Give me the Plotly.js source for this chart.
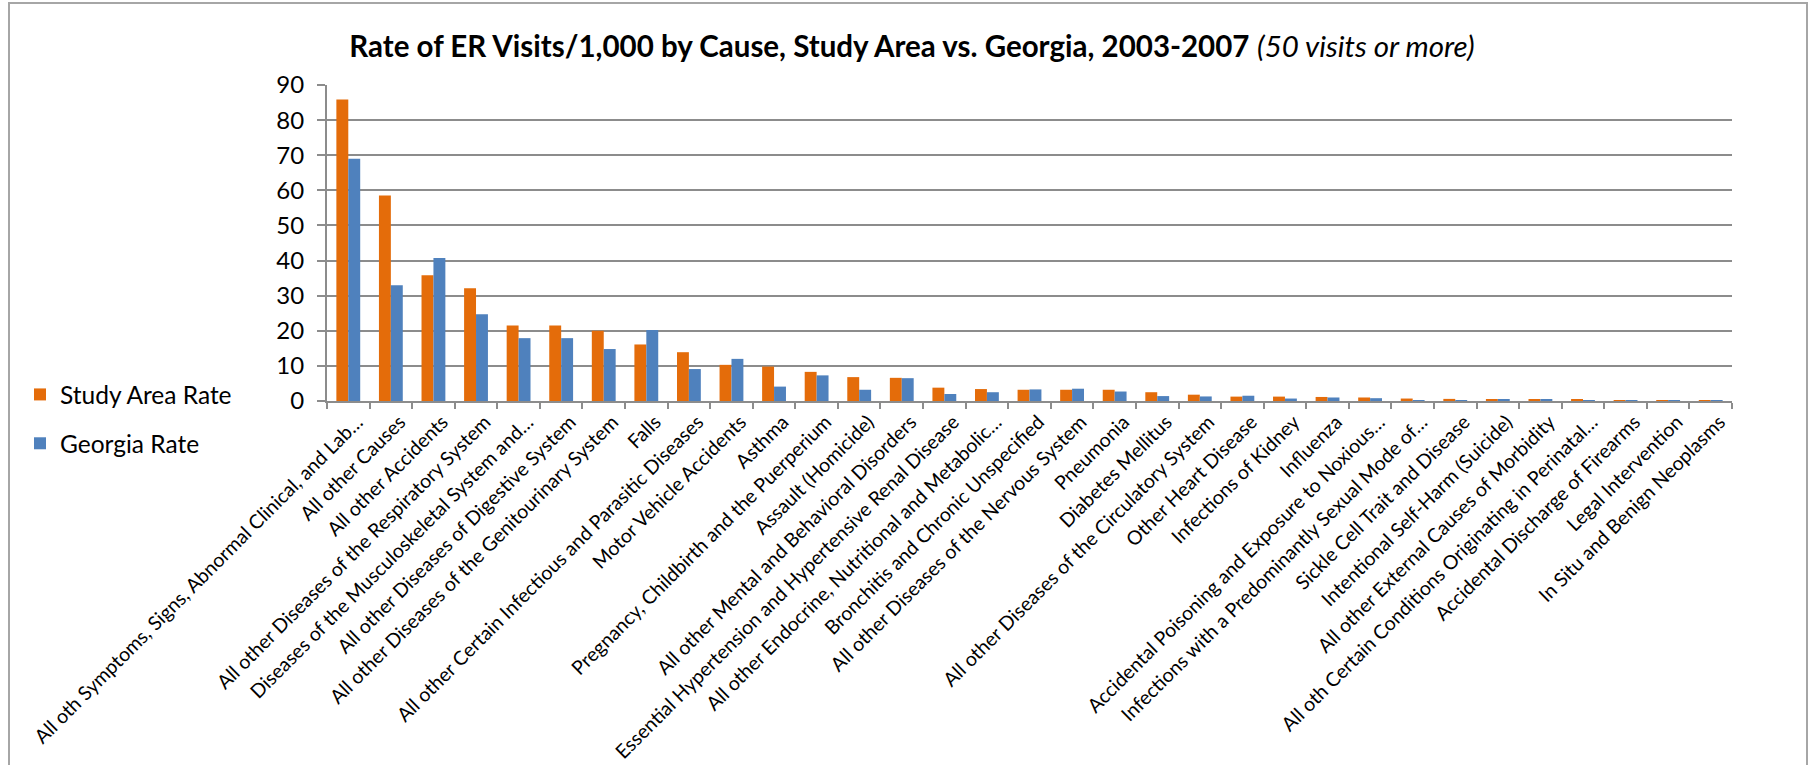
<!DOCTYPE html>
<html>
<head>
<meta charset="utf-8">
<script src="https://cdn.plot.ly/plotly-3.0.1.min.js"></script>
<style>html,body{margin:0;padding:0;background:#fff;}#chart{width:1820px;height:765px;}</style>
</head>
<body>
<div id="chart"></div>
<script>
const categories = [
  "All oth Symptoms, Signs, Abnormal Clinical, and Lab…",
  "All other Causes",
  "All other Accidents",
  "All other Diseases of the Respiratory System",
  "Diseases of the Musculoskeletal System and…",
  "All other Diseases of Digestive System",
  "All other Diseases of the Genitourinary System",
  "Falls",
  "All other Certain Infectious and Parasitic Diseases",
  "Motor Vehicle Accidents",
  "Asthma",
  "Pregnancy, Childbirth and the Puerperium",
  "Assault (Homicide)",
  "All other Mental and Behavioral Disorders",
  "Essential Hypertension and Hypertensive Renal Disease",
  "All other Endocrine, Nutritional and Metabolic…",
  "Bronchitis and Chronic Unspecified",
  "All other Diseases of the Nervous System",
  "Pneumonia",
  "Diabetes Mellitus",
  "All other Diseases of the Circulatory System",
  "Other Heart Disease",
  "Infections of Kidney",
  "Influenza",
  "Accidental Poisoning and Exposure to Noxious…",
  "Infections with a Predominantly Sexual Mode of…",
  "Sickle Cell Trait and Disease",
  "Intentional Self-Harm (Suicide)",
  "All other External Causes of Morbidity",
  "All oth Certain Conditions Originating in Perinatal…",
  "Accidental Discharge of Firearms",
  "Legal Intervention",
  "In Situ and Benign Neoplasms"
];
const studyAreaRate = [85.9, 58.5, 35.8, 32.1, 21.5, 21.5, 20.0, 16.1, 13.9, 10.3, 9.8, 8.3, 6.8, 6.6, 3.8, 3.4, 3.2, 3.2, 3.2, 2.5, 1.8, 1.25, 1.25, 1.15, 1.0, 0.7, 0.6, 0.4, 0.3, 0.3, 0.25, 0.2, 0.2];
const georgiaRate   = [69.0, 33.0, 40.7, 24.7, 17.9, 17.9, 14.8, 20.2, 9.1, 12.0, 4.1, 7.3, 3.2, 6.5, 2.0, 2.5, 3.3, 3.5, 2.7, 1.4, 1.3, 1.5, 0.7, 1.0, 0.8, 0.1, 0.05, 0.4, 0.3, 0.05, 0.05, 0.03, 0.03];
const seriesNames = ["Study Area Rate", "Georgia Rate"];
const yTicks = [0, 10, 20, 30, 40, 50, 60, 70, 80, 90];

const FONT = "Lato, 'Open Sans', sans-serif";
const W = 1820, H = 765;
const plotL = 327, plotR = 1732, plotT = 85, plotB = 401;
const pw = plotR - plotL, ph = plotB - plotT;
const px2x = x => (x - plotL) / pw;
const px2y = y => (plotB - y) / ph;

const traces = [
  {type: 'bar', name: seriesNames[0], x: categories, y: studyAreaRate,
   marker: {color: '#E46C0A', line: {width: 0}}, legendgroup: 'a'},
  {type: 'bar', name: seriesNames[1], x: categories, y: georgiaRate,
   marker: {color: '#4F81BD', line: {width: 0}}, legendgroup: 'b'}
];

const layout = {
  width: W, height: H,
  margin: {l: plotL, r: W - plotR, t: plotT, b: H - plotB, pad: 0},
  paper_bgcolor: '#fff', plot_bgcolor: '#fff',
  font: {family: FONT, color: '#000'},
  barmode: 'group', bargap: 0.44, bargroupgap: 0,
  title: {
    text: "<b>Rate of ER Visits/1,000 by Cause, Study Area vs. Georgia, 2003-2007</b> <i>(50 visits or more)</i>",
    font: {family: FONT, size: 29.5, color: '#000'},
    xref: 'container', x: 912 / W, xanchor: 'center',
    yref: 'container', y: 1 - 47 / H, yanchor: 'middle'
  },
  xaxis: {
    type: 'category', tickangle: -45, tickson: 'boundaries',
    ticks: 'outside', ticklen: 6, tickwidth: 2, tickcolor: '#8c8c8c',
    showline: true, linecolor: '#8c8c8c', linewidth: 2,
    showgrid: false, tickfont: {family: FONT, size: 19.5, color: '#000'},
    ticklabelshift: 9,
    automargin: false
  },
  yaxis: {
    range: [0, 90], tickvals: yTicks, ticktext: yTicks.map(String),
    ticks: 'outside', ticklen: 8, tickwidth: 2, tickcolor: '#8c8c8c',
    showline: true, linecolor: '#8c8c8c', linewidth: 2,
    showgrid: true, gridcolor: '#8c8c8c', gridwidth: 2, zeroline: false,
    tickfont: {family: FONT, size: 24, color: '#000'},
    ticklabelstandoff: 8,
    automargin: false
  },
  showlegend: true,
  legend: {
    x: px2x(20), xanchor: 'left', y: px2y(372), yanchor: 'top',
    font: {family: FONT, size: 24.5, color: '#000'},
    traceorder: 'grouped', tracegroupgap: 14, bgcolor: 'rgba(0,0,0,0)'
  },
  shapes: [{
    type: 'rect', xref: 'paper', yref: 'paper',
    x0: px2x(9), x1: px2x(1807), y0: px2y(790), y1: px2y(3),
    line: {color: '#a6a6a6', width: 2}, fillcolor: 'rgba(0,0,0,0)', layer: 'below'
  }]
};

Plotly.newPlot('chart', traces, layout, {displayModeBar: false, responsive: false});
</script>
</body>
</html>
